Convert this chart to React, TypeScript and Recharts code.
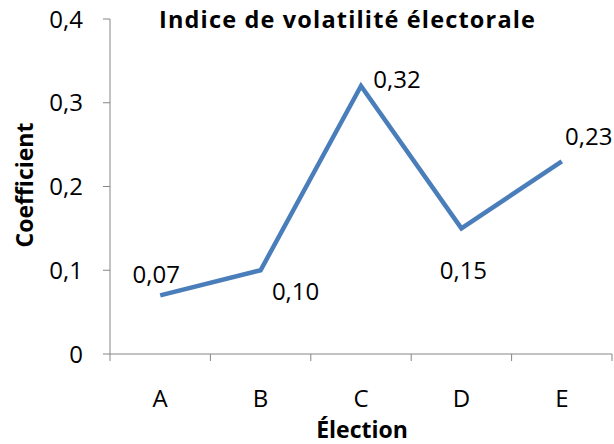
import React from "react";
import { LineChart, Line, XAxis, YAxis, LabelList } from "recharts";

const categories = ["A", "B", "C", "D", "E"];
const values = [0.07, 0.1, 0.32, 0.15, 0.23];
const yTicks = [0, 0.1, 0.2, 0.3, 0.4];
const title = "Indice de volatilité électorale";
const xTitle = "Élection";
const yTitle = "Coefficient";

const data = categories.map((c, i) => ({ name: c, value: values[i] }));

const FONT = "'Open Sans', 'Noto Sans', sans-serif";
const W = 614;
const H = 444;
const M = { top: 19, right: 2, left: 0, bottom: 0 };
const Y_W = 110;
const X_H = 90;
const STEP = (W - M.left - M.right - Y_W) / categories.length;
const AXIS_COLOR = "#868686";

// label offsets (dx, dy) relative to each point
const labelOffsets: [number, number][] = [
  [-4, -22],
  [35, 20],
  [36, -8],
  [2, 41],
  [27, -26],
];

const fmt = (v: number) => (v === 0 ? "0" : v.toFixed(2).replace(".", ","));
const fmtTick = (v: number) => (v === 0 ? "0" : String(v).replace(".", ","));

const XTick = (props: any) => {
  const { x, index, payload } = props;
  const axisY = H - X_H;
  const last = index === categories.length - 1;
  return (
    <g>
      <line x1={x - STEP / 2} x2={x - STEP / 2} y1={axisY} y2={axisY + 7} stroke={AXIS_COLOR} />
      {last && <line x1={x + STEP / 2} x2={x + STEP / 2} y1={axisY} y2={axisY + 7} stroke={AXIS_COLOR} />}
      <text x={x} y={axisY + 43} textAnchor="middle" dominantBaseline="central" fontSize={24} fontFamily={FONT} fill="#000">
        {payload.value}
      </text>
    </g>
  );
};

const DataLabel = (props: any) => {
  const { x, y, value, index } = props;
  const [dx, dy] = labelOffsets[index] || [0, 0];
  return (
    <text x={x + dx} y={y + dy} textAnchor="middle" dominantBaseline="central" fontSize={24} fontFamily={FONT} fill="#000">
      {fmt(value)}
    </text>
  );
};

export default function App() {
  return (
    <div style={{ position: "absolute", left: 0, top: 0, width: W, height: H, background: "#fff", overflow: "hidden" }}>
      <LineChart width={W} height={H} data={data} margin={M} style={{ overflow: "visible" }}>
        <XAxis
          dataKey="name"
          height={X_H}
          padding={{ left: STEP / 2, right: STEP / 2 }}
          axisLine={{ stroke: AXIS_COLOR }}
          tickLine={false}
          tick={<XTick />}
          interval={0}
        />
        <YAxis
          width={Y_W}
          domain={[0, 0.4]}
          ticks={yTicks}
          tickFormatter={fmtTick}
          axisLine={{ stroke: AXIS_COLOR }}
          tickLine={{ stroke: AXIS_COLOR }}
          tickSize={7}
          tickMargin={20}
          tick={{ fontSize: 24, fontFamily: FONT, fill: "#000" }}
        />
        <Line
          type="linear"
          dataKey="value"
          stroke="#4a7ebb"
          strokeWidth={4.5}
          dot={false}
          isAnimationActive={false}
        >
          <LabelList dataKey="value" content={<DataLabel />} />
        </Line>
        <text x={347} y={28} textAnchor="middle" fontSize={23.5} fontWeight="bold" fontFamily={FONT} fill="#000" textLength={376} lengthAdjust="spacing">
          {title}
        </text>
        <text x={362} y={438} textAnchor="middle" fontSize={23} fontWeight="bold" fontFamily={FONT} fill="#000">
          {xTitle}
        </text>
        <text x={24} y={185} textAnchor="middle" dominantBaseline="central" fontSize={23} fontWeight="bold" fontFamily={FONT} fill="#000" transform="rotate(-90 24 185)">
          {yTitle}
        </text>
      </LineChart>
    </div>
  );
}
